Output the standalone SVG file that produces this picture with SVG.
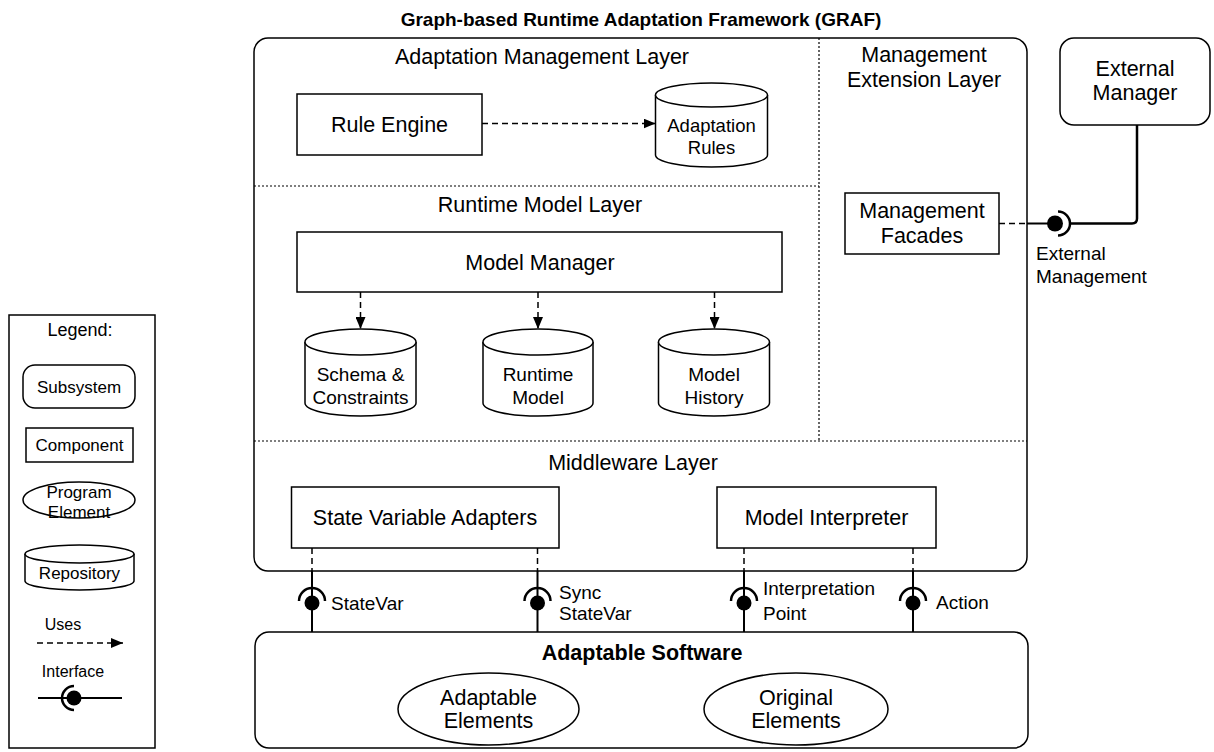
<svg xmlns="http://www.w3.org/2000/svg" width="1214" height="752" viewBox="0 0 1214 752">
<defs>
<marker id="arr" markerWidth="12" markerHeight="10" refX="12" refY="5" orient="auto" markerUnits="userSpaceOnUse">
<path d="M0,0 L12,5 L0,10 Z" fill="#000"/>
</marker>
<style>
text{font-family:"Liberation Sans",Arial,sans-serif;fill:#000}
.t21{font-size:21.5px;text-anchor:middle}
.t19{font-size:19px;text-anchor:middle}
.l19{font-size:19px}
.t17{font-size:17px;text-anchor:middle}
.b{font-weight:bold}
.box{fill:#fff;stroke:#000;stroke-width:1.5}
.dot{stroke:#000;stroke-width:1.2;stroke-dasharray:2,2;fill:none}
.dash{stroke:#000;stroke-width:1.5;stroke-dasharray:6,4;fill:none}
.solid{stroke:#000;stroke-width:2;fill:none}
.sock{stroke:#000;stroke-width:2.5;fill:none}
.ball{fill:#000}
</style>
</defs>
<rect width="1214" height="752" fill="#fff"/>
<text x="641" y="26" class="b" style="font-size:19px;text-anchor:middle">Graph-based Runtime Adaptation Framework (GRAF)</text>

<g id="graf">
<rect class="box" x="254" y="38" width="773" height="533" rx="14"/>
<line class="dot" x1="819" y1="38" x2="819" y2="441"/>
<line class="dot" x1="254" y1="186" x2="819" y2="186"/>
<line class="dot" x1="254" y1="441" x2="1027" y2="441"/>
<text class="t21" x="542" y="64">Adaptation Management Layer</text>
<text class="t21" x="540" y="212">Runtime Model Layer</text>
<text class="t21" x="924" y="62">Management</text>
<text class="t21" x="924" y="87">Extension Layer</text>
<text class="t21" x="633" y="470">Middleware Layer</text>
</g>

<g id="rule-engine">
<rect class="box" x="297" y="94" width="185" height="61"/>
<text class="t21" x="389.5" y="131.5">Rule Engine</text>
</g>
<g id="adaptation-rules">
<path class="box" d="M655.5,95 V155 A56,12 0 0 0 767.5,155 V95"/>
<ellipse class="box" cx="711.5" cy="95" rx="56" ry="12"/>
<text x="711.5" y="132" style="font-size:18.5px;text-anchor:middle">Adaptation</text>
<text x="711.5" y="154" style="font-size:18.5px;text-anchor:middle">Rules</text>
</g>

<g id="model-manager">
<rect class="box" x="297" y="232" width="485" height="60"/>
<text class="t21" x="540" y="269.5">Model Manager</text>
</g>
<g id="schema">
<path class="box" d="M305,342 V403 A55.5,13 0 0 0 416,403 V342"/>
<ellipse class="box" cx="360.5" cy="342" rx="55.5" ry="13"/>
<text class="t19" x="360.5" y="380.5">Schema &amp;</text>
<text class="t19" x="360.5" y="404">Constraints</text>
</g>
<g id="runtime-model">
<path class="box" d="M483,342 V403 A55,13 0 0 0 593,403 V342"/>
<ellipse class="box" cx="538" cy="342" rx="55" ry="13"/>
<text class="t19" x="538" y="380.5">Runtime</text>
<text class="t19" x="538" y="404">Model</text>
</g>
<g id="model-history">
<path class="box" d="M658.5,342 V403 A55.5,13 0 0 0 769.5,403 V342"/>
<ellipse class="box" cx="714" cy="342" rx="55.5" ry="13"/>
<text class="t19" x="714" y="380.5">Model</text>
<text class="t19" x="714" y="404">History</text>
</g>

<g id="management-facades">
<rect class="box" x="845" y="193" width="154" height="61"/>
<text class="t21" x="922" y="217.5">Management</text>
<text class="t21" x="922" y="242.5">Facades</text>
</g>
<g id="external-manager">
<rect class="box" x="1060" y="38" width="150" height="87" rx="14"/>
<text class="t21" x="1135" y="76">External</text>
<text class="t21" x="1135" y="100">Manager</text>
</g>

<g id="sva">
<rect class="box" x="291.5" y="487" width="267.5" height="61"/>
<text class="t21" x="425" y="524.5">State Variable Adapters</text>
</g>
<g id="model-interpreter">
<rect class="box" x="717" y="487" width="219" height="61"/>
<text class="t21" x="826.5" y="524.5">Model Interpreter</text>
</g>

<g id="adaptable-software">
<rect class="box" x="255" y="632" width="773" height="116" rx="14"/>
<text class="t21 b" x="642" y="659.5">Adaptable Software</text>
</g>
<g id="adaptable-elements">
<ellipse class="box" cx="488.5" cy="709" rx="90.5" ry="36"/>
<text class="t21" x="488.5" y="704.5">Adaptable</text>
<text class="t21" x="488.5" y="727.5">Elements</text>
</g>
<g id="original-elements">
<ellipse class="box" cx="796" cy="709" rx="92" ry="36"/>
<text class="t21" x="796" y="704.5">Original</text>
<text class="t21" x="796" y="727.5">Elements</text>
</g>

<g id="connectors">
<line class="dash" x1="482" y1="123.5" x2="655.5" y2="123.5" marker-end="url(#arr)"/>
<line class="dash" x1="360.5" y1="292" x2="360.5" y2="329" marker-end="url(#arr)"/>
<line class="dash" x1="538" y1="292" x2="538" y2="329" marker-end="url(#arr)"/>
<line class="dash" x1="714.5" y1="292" x2="714.5" y2="329" marker-end="url(#arr)"/>

<line class="dash" x1="999" y1="223.5" x2="1027" y2="223.5"/>
<line class="solid" x1="1027" y1="223.5" x2="1050" y2="223.5"/>
<circle class="ball" cx="1055" cy="223.5" r="8"/>
<path class="sock" d="M1058,211.5 A12,12 0 0 1 1058,235.5"/>
<path d="M1070,223.5 H1132 Q1137,223.5 1137,218.5 V125" fill="none" stroke="#000" stroke-width="2.5"/>
<text class="l19" x="1036" y="259.5">External</text>
<text class="l19" x="1036" y="282.5">Management</text>

<line class="dash" x1="312" y1="548" x2="312" y2="571"/>
<line class="solid" x1="312" y1="571" x2="312" y2="632"/>
<path class="sock" d="M299,601 A13,13 0 0 1 325,601"/>
<circle class="ball" cx="312" cy="603" r="7.5"/>
<text class="l19" x="331" y="609.5">StateVar</text>

<line class="dash" x1="537.5" y1="548" x2="537.5" y2="571"/>
<line class="solid" x1="537.5" y1="571" x2="537.5" y2="632"/>
<path class="sock" d="M524.5,601 A13,13 0 0 1 550.5,601"/>
<circle class="ball" cx="537.5" cy="603" r="7.5"/>
<text class="l19" x="559" y="598.5">Sync</text>
<text class="l19" x="559" y="620">StateVar</text>

<line class="dash" x1="744" y1="548" x2="744" y2="571"/>
<line class="solid" x1="744" y1="571" x2="744" y2="632"/>
<path class="sock" d="M731,601 A13,13 0 0 1 757,601"/>
<circle class="ball" cx="744" cy="603" r="7.5"/>
<text class="l19" x="763" y="594.5">Interpretation</text>
<text class="l19" x="763" y="620">Point</text>

<line class="dash" x1="913" y1="548" x2="913" y2="571"/>
<line class="solid" x1="913" y1="571" x2="913" y2="632"/>
<path class="sock" d="M900,601 A13,13 0 0 1 926,601"/>
<circle class="ball" cx="913" cy="603" r="7.5"/>
<text class="l19" x="936" y="608.5">Action</text>
</g>

<g id="legend">
<rect class="box" x="9" y="315" width="146" height="433"/>
<text x="80" y="336" style="font-size:18px;text-anchor:middle">Legend:</text>
<rect class="box" x="23" y="365" width="112" height="43" rx="12"/>
<text class="t17" x="79" y="393">Subsystem</text>
<rect class="box" x="26" y="428" width="107" height="34"/>
<text class="t17" x="79.5" y="451">Component</text>
<ellipse class="box" cx="79" cy="500" rx="56" ry="18"/>
<text class="t17" x="79" y="498">Program</text>
<text class="t17" x="79" y="518">Element</text>
<path class="box" d="M25,554 V581 A54.5,9 0 0 0 134,581 V554"/>
<ellipse class="box" cx="79.5" cy="554" rx="54.5" ry="9"/>
<text class="t17" x="79.5" y="579">Repository</text>
<text x="63" y="630" style="font-size:16px;text-anchor:middle">Uses</text>
<line class="dash" x1="37" y1="643" x2="123" y2="643" marker-end="url(#arr)"/>
<text x="73" y="677" style="font-size:16px;text-anchor:middle">Interface</text>
<line class="solid" x1="38" y1="698" x2="122" y2="698"/>
<path class="sock" d="M74,686 A12,12 0 0 0 74,710"/>
<circle class="ball" cx="74" cy="698" r="7.5"/>
</g>
</svg>
